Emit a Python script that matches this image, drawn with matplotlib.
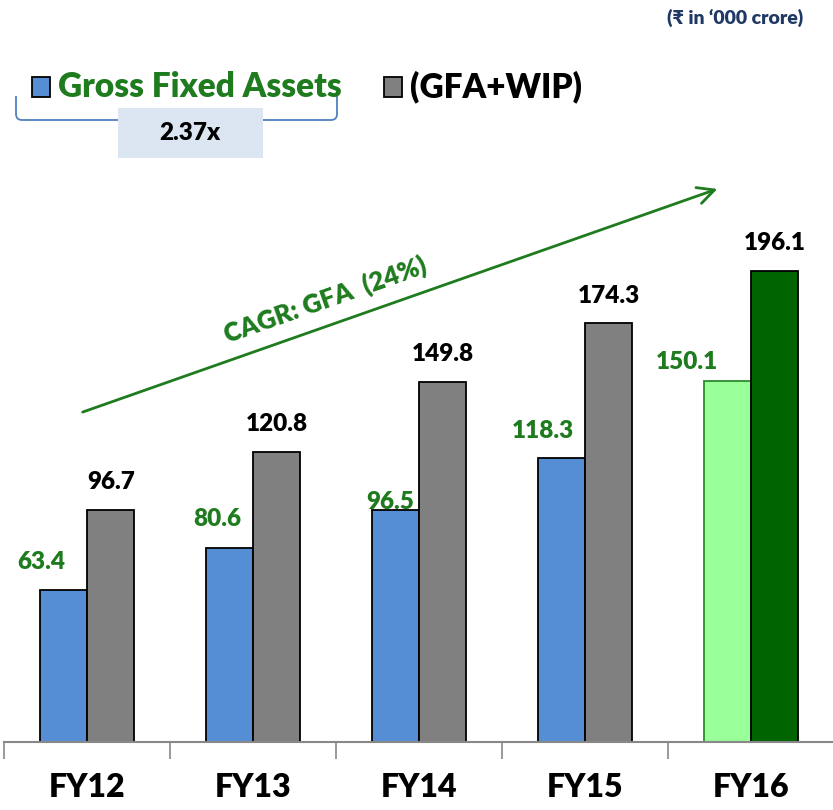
import matplotlib
matplotlib.use("Agg")
import matplotlib.pyplot as plt
from matplotlib.patches import Rectangle, FancyArrowPatch, PathPatch
from matplotlib.path import Path
import numpy as np

plt.rcParams['font.family'] = ['Lato', 'DejaVu Sans']
WT = "heavy"

categories = ["FY12", "FY13", "FY14", "FY15", "FY16"]
gfa = [63.4, 80.6, 96.5, 118.3, 150.1]
gfa_wip = [96.7, 120.8, 149.8, 174.3, 196.1]
gfa_labels = ["63.4", "80.6", "96.5", "118.3", "150.1"]
wip_labels = ["96.7", "120.8", "149.8", "174.3", "196.1"]

W, H = 833, 810
fig = plt.figure(figsize=(W / 100, H / 100), dpi=100)

def fx(px):
    return px / W

def fy(py):
    return 1 - py / H

base_px = 742
top_px = 10
ax = fig.add_axes([fx(4), fy(base_px), fx(834) - fx(4), fy(top_px) - fy(base_px)])
ax.set_xlim(-0.5, 4.5)
ax.set_ylim(0, (base_px - top_px) / 2.402)

x = np.arange(len(categories))
bw = 0.286
gfa_colors = ["#558ED5"] * 4 + ["#99FF99"]
gfa_edges = ["black"] * 4 + ["#2E8B2E"]
wip_colors = ["#808080"] * 4 + ["#006400"]

ax.bar(x - bw / 2, gfa, width=bw, color=gfa_colors, edgecolor=gfa_edges, linewidth=1.3, zorder=2)
ax.bar(x + bw / 2, gfa_wip, width=bw, color=wip_colors, edgecolor="black", linewidth=1.3, zorder=2)

green_txt = "#1E7B1E"
# label offsets (points) for GFA labels relative to bar center/top
gfa_dx = [-16, -9, -4, -13, -29]
gfa_dy = [20, 21, 6, 19, 14]
for i in range(len(categories)):
    ax.annotate(gfa_labels[i], (x[i] - bw / 2, gfa[i]), xytext=(gfa_dx[i], gfa_dy[i]),
                textcoords="offset points", ha="center", va="center",
                fontsize=17.5, fontweight=WT, color=green_txt)
    ax.annotate(wip_labels[i], (x[i] + bw / 2, gfa_wip[i]), xytext=(0, 20),
                textcoords="offset points", ha="center", va="center",
                fontsize=17.5, fontweight=WT, color="black")

for s in ["top", "left", "right"]:
    ax.spines[s].set_visible(False)
ax.spines["bottom"].set_color("#888888")
ax.spines["bottom"].set_linewidth(1.5)
ax.set_yticks([])
ax.set_xticks(np.arange(-0.5, 4.6, 1.0))
ax.set_xticklabels([])
ax.tick_params(axis="x", which="major", length=12, width=1.2, color="#888888", direction="out")
ax.set_xticks(x, minor=True)
ax.set_xticklabels(categories, minor=True, fontsize=23, fontweight=WT)
ax.tick_params(axis="x", which="minor", length=0, pad=22)

# unit note
fig.text(fx(803), fy(18), "(₹ in \u2018000 crore)", ha="right", va="center",
         fontsize=14, fontweight=WT, color="#1F3864")

# legend
fig.patches.append(Rectangle((fx(32), fy(97)), fx(18), fy(77) - fy(97), transform=fig.transFigure,
                             facecolor="#558ED5", edgecolor="black", linewidth=1.3))
fig.text(fx(58), fy(87), "Gross Fixed Assets", ha="left", va="center", fontsize=24,
         fontweight=WT, color="#1E7B1E")
fig.patches.append(Rectangle((fx(384), fy(97)), fx(18), fy(77) - fy(97), transform=fig.transFigure,
                             facecolor="#808080", edgecolor="black", linewidth=1.3))
fig.text(fx(410), fy(87), "(GFA+WIP)", ha="left", va="center", fontsize=24,
         fontweight=WT, color="black")

# bracket
r = 6
verts = [(fx(16), fy(96)), (fx(16), fy(120 - r)), (fx(16), fy(120)), (fx(16 + r), fy(120)),
         (fx(337 - r), fy(120)), (fx(337), fy(120)), (fx(337), fy(120 - r)), (fx(337), fy(96))]
codes = [Path.MOVETO, Path.LINETO, Path.CURVE3, Path.CURVE3, Path.LINETO, Path.CURVE3, Path.CURVE3, Path.LINETO]
fig.patches.append(PathPatch(Path(verts, codes), transform=fig.transFigure, fill=False,
                             edgecolor="#4F81BD", linewidth=1.3))
fig.patches.append(Rectangle((fx(118), fy(158)), fx(263) - fx(118), fy(108) - fy(158),
                             transform=fig.transFigure, facecolor="#DCE6F2", edgecolor="none", zorder=3))
fig.text(fx(190), fy(133), "2.37x", ha="center", va="center", fontsize=17.5,
         fontweight=WT, color="black", zorder=4)

# CAGR arrow
arr = FancyArrowPatch((fx(80), fy(413)), (fx(720), fy(188)), transform=fig.transFigure,
                      arrowstyle="->,head_length=12,head_width=6", color="#1E7B1E", linewidth=2)
fig.patches.append(arr)
fig.text(fx(325), fy(300), "CAGR: GFA  (24%)", ha="center", va="center", rotation=19.4,
         fontsize=18.5, fontweight=WT, color="#1E7B1E", rotation_mode="anchor")

fig.savefig("out.png", dpi=100)
